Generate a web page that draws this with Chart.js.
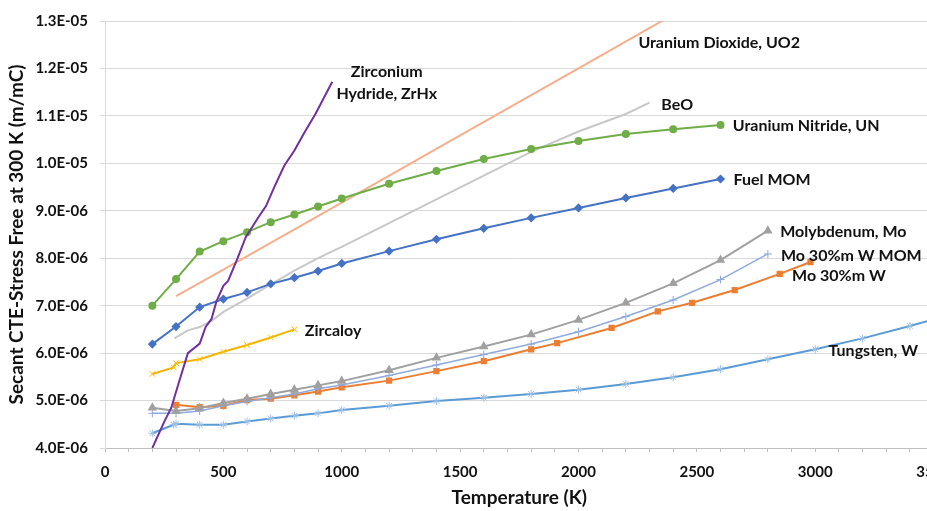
<!DOCTYPE html>
<html>
<head>
<meta charset="utf-8">
<script src="https://cdn.jsdelivr.net/npm/chart.js@4.4.0/dist/chart.umd.min.js"></script>
<style>
  html, body { margin: 0; padding: 0; overflow: hidden; background: #fff; }
  #wrap { width: 962px; height: 511px; position: relative; }
</style>
</head>
<body>
<div id="wrap"><canvas id="cteChart"></canvas></div>
<script>
// Temperatures (K) and secant CTE values (m/mC)
const unTemp = [200, 300, 400, 500, 600, 700, 800, 900, 1000, 1200, 1400, 1600, 1800, 2000, 2200, 2400, 2600];
const unCte = [7.00e-6, 7.56e-6, 8.14e-6, 8.36e-6, 8.55e-6, 8.76e-6, 8.92e-6, 9.09e-6, 9.26e-6, 9.57e-6, 9.84e-6, 10.09e-6, 10.30e-6, 10.47e-6, 10.62e-6, 10.72e-6, 10.81e-6];
const fuelMomCte = [6.19e-6, 6.56e-6, 6.97e-6, 7.14e-6, 7.28e-6, 7.46e-6, 7.59e-6, 7.73e-6, 7.89e-6, 8.15e-6, 8.40e-6, 8.63e-6, 8.85e-6, 9.06e-6, 9.27e-6, 9.47e-6, 9.67e-6];

const uo2Temp = [300, 500, 1000, 1500, 2000, 2500];
const uo2Cte = [7.20e-6, 7.76e-6, 9.17e-6, 10.59e-6, 12.00e-6, 13.42e-6];

const beoTemp = [293, 350, 400, 450, 500, 600, 700, 800, 900, 1000, 1200, 1400, 1600, 1800, 2000, 2200, 2300];
const beoCte = [6.31e-6, 6.48e-6, 6.55e-6, 6.68e-6, 6.87e-6, 7.15e-6, 7.45e-6, 7.74e-6, 8.00e-6, 8.24e-6, 8.74e-6, 9.24e-6, 9.74e-6, 10.24e-6, 10.67e-6, 11.04e-6, 11.28e-6];

const zrhTemp = [200, 250, 280, 310, 350, 400, 425, 450, 470, 500, 520, 560, 595, 650, 680, 715, 757, 800, 840, 890, 960];
const zrhCte = [4.00e-6, 4.55e-6, 4.85e-6, 5.35e-6, 6.00e-6, 6.20e-6, 6.55e-6, 6.72e-6, 7.08e-6, 7.42e-6, 7.52e-6, 8.00e-6, 8.45e-6, 8.88e-6, 9.10e-6, 9.50e-6, 9.95e-6, 10.27e-6, 10.63e-6, 11.05e-6, 11.72e-6];

const zircTemp = [200, 290, 300, 400, 500, 600, 700, 800];
const zircCte = [5.56e-6, 5.70e-6, 5.79e-6, 5.87e-6, 6.03e-6, 6.17e-6, 6.33e-6, 6.50e-6];

const moTemp = [200, 300, 400, 500, 600, 700, 800, 900, 1000, 1200, 1400, 1600, 1800, 2000, 2200, 2400, 2600, 2800];
const moCte = [4.85e-6, 4.78e-6, 4.84e-6, 4.95e-6, 5.04e-6, 5.14e-6, 5.23e-6, 5.32e-6, 5.41e-6, 5.64e-6, 5.90e-6, 6.14e-6, 6.39e-6, 6.70e-6, 7.06e-6, 7.47e-6, 7.96e-6, 8.58e-6];
const moWMomCte = [4.73e-6, 4.73e-6, 4.78e-6, 4.89e-6, 4.98e-6, 5.06e-6, 5.14e-6, 5.25e-6, 5.33e-6, 5.53e-6, 5.75e-6, 5.97e-6, 6.19e-6, 6.45e-6, 6.77e-6, 7.12e-6, 7.55e-6, 8.09e-6];

const moWTemp = [300, 400, 500, 600, 700, 800, 900, 1000, 1200, 1400, 1600, 1800, 1910, 2140, 2335, 2480, 2660, 2850, 2980];
const moWCte = [4.91e-6, 4.86e-6, 4.89e-6, 5.01e-6, 5.04e-6, 5.11e-6, 5.19e-6, 5.28e-6, 5.42e-6, 5.62e-6, 5.83e-6, 6.08e-6, 6.21e-6, 6.53e-6, 6.88e-6, 7.06e-6, 7.33e-6, 7.67e-6, 7.92e-6];

const wTemp = [200, 290, 300, 400, 500, 600, 700, 800, 900, 1000, 1200, 1400, 1600, 1800, 2000, 2200, 2400, 2600, 2800, 3000, 3200, 3400, 3600];
const wCte = [4.31e-6, 4.49e-6, 4.51e-6, 4.49e-6, 4.49e-6, 4.56e-6, 4.62e-6, 4.68e-6, 4.73e-6, 4.80e-6, 4.89e-6, 4.99e-6, 5.06e-6, 5.14e-6, 5.23e-6, 5.35e-6, 5.49e-6, 5.66e-6, 5.87e-6, 6.08e-6, 6.31e-6, 6.57e-6, 6.85e-6];

// series names written next to the lines (anchored in data units)
const seriesNotes = [
  { text: 'Zirconium', x: 1190, y: 11.93e-6, align: 'center' },
  { text: 'Hydride, ZrHx', x: 1190, y: 11.46e-6, align: 'center' },
  { text: 'Uranium Dioxide, UO2', x: 2253, y: 12.55e-6 },
  { text: 'BeO', x: 2350, y: 11.24e-6 },
  { text: 'Uranium Nitride, UN', x: 2652, y: 10.79e-6 },
  { text: 'Fuel MOM', x: 2655, y: 9.65e-6 },
  { text: 'Molybdenum, Mo', x: 2852, y: 8.55e-6 },
  { text: 'Mo 30%m W MOM', x: 2855, y: 8.06e-6 },
  { text: 'Mo 30%m W', x: 2902, y: 7.62e-6 },
  { text: 'Tungsten, W', x: 3056, y: 6.05e-6 },
  { text: 'Zircaloy', x: 844, y: 6.46e-6 },
];

const FONT = 'Lato, "Open Sans", sans-serif';
const toPoints = (xs, ys) => xs.map((x, i) => ({ x: x, y: ys[i] }));

function sciLabel(v) {
  const e = Math.floor(Math.log10(v) + 1e-9);
  const m = v / Math.pow(10, e);
  return m.toFixed(1) + 'E' + (e < 0 ? '-' : '+') + String(Math.abs(e)).padStart(2, '0');
}

function line(label, xs, ys, color, extra) {
  return Object.assign({
    label: label,
    data: toPoints(xs, ys),
    showLine: true,
    borderColor: color,
    backgroundColor: color,
    borderWidth: 2,
    pointRadius: 0,
    tension: 0,
  }, extra || {});
}

const notesPlugin = {
  id: 'notes',
  afterDatasetsDraw(chart) {
    const { ctx, scales } = chart;
    ctx.save();
    ctx.font = 'bold 16px ' + FONT;
    ctx.fillStyle = '#111';
    ctx.textBaseline = 'middle';
    seriesNotes.forEach(n => {
      ctx.textAlign = n.align || 'left';
      ctx.fillText(n.text, scales.x.getPixelForValue(n.x), scales.y.getPixelForValue(n.y));
    });
    ctx.restore();
  }
};

const datasets = [
  line('Zirconium Hydride, ZrHx', zrhTemp, zrhCte, '#7030A0'),
  line('Uranium Nitride, UN', unTemp, unCte, '#70AD47', { pointRadius: 3, pointStyle: 'circle' }),
  line('Fuel MOM', unTemp, fuelMomCte, '#4472C4', { pointRadius: 3.2, pointStyle: 'rectRot' }),
  line('Uranium Dioxide, UO2', uo2Temp, uo2Cte, '#F7AE8C'),
  line('BeO', beoTemp, beoCte, '#C8C8C8'),
  line('Zircaloy', zircTemp, zircCte, '#F2B500', { pointRadius: 4, pointStyle: 'crossRot', pointBorderColor: '#FFC000', pointBorderWidth: 1 }),
  line('Molybdenum, Mo', moTemp, moCte, '#A0A0A0', { pointRadius: 3.5, pointStyle: 'triangle' }),
  line('Mo 30%m W MOM', moTemp, moWMomCte, '#8FAADC', { borderWidth: 1.5, pointRadius: 4, pointStyle: 'cross', pointBorderWidth: 1 }),
  line('Mo 30%m W', moWTemp, moWCte, '#ED7D31', { pointRadius: 3, pointStyle: 'rect' }),
  line('Tungsten, W', wTemp, wCte, '#5B9BD5', { pointRadius: 4, pointStyle: 'star', pointBorderColor: '#9DC3E6', pointBorderWidth: 1 }),
];

const config = {
  type: 'scatter',
  data: { datasets: datasets },
  options: {
    responsive: true,
    maintainAspectRatio: false,
    animation: false,
    layout: { padding: { top: 12, right: 16, left: 0, bottom: 0 } },
    plugins: {
      legend: { display: false },
      tooltip: { enabled: false },
    },
    scales: {
      x: {
        type: 'linear',
        min: 0,
        max: 3500,
        afterFit: (scale) => { scale.height = 63; },
        grid: { drawOnChartArea: false, drawTicks: true, tickLength: 4, color: '#BFBFBF' },
        border: { display: true, color: '#BFBFBF' },
        ticks: {
          stepSize: 100,
          autoSkip: false,
          maxRotation: 0,
          padding: 11,
          color: '#111',
          font: { family: FONT, size: 15, weight: 'bold' },
          callback: (v) => (v % 500 === 0 ? String(v) : ''),
        },
        title: {
          display: true,
          text: 'Temperature (K)',
          color: '#111',
          font: { family: FONT, size: 19, weight: 'bold' },
          padding: { top: 0, bottom: 2 },
        },
      },
      y: {
        min: 4e-6,
        max: 1.3e-5,
        afterFit: (scale) => { scale.width = 105; },
        grid: { color: '#D9D9D9', tickLength: 5 },
        border: { display: true, color: '#D9D9D9' },
        ticks: {
          stepSize: 1e-6,
          padding: 12,
          color: '#111',
          font: { family: FONT, size: 15, weight: 'bold' },
          callback: (v) => sciLabel(v),
        },
        title: {
          display: true,
          text: 'Secant CTE-Stress Free at 300 K (m/mC)',
          color: '#111',
          font: { family: FONT, size: 19, weight: 'bold' },
          padding: { top: 5, bottom: 0 },
        },
      },
    },
  },
  plugins: [notesPlugin],
};

const ctx = document.getElementById('cteChart').getContext('2d');
new Chart(ctx, config);
</script>
</body>
</html>
